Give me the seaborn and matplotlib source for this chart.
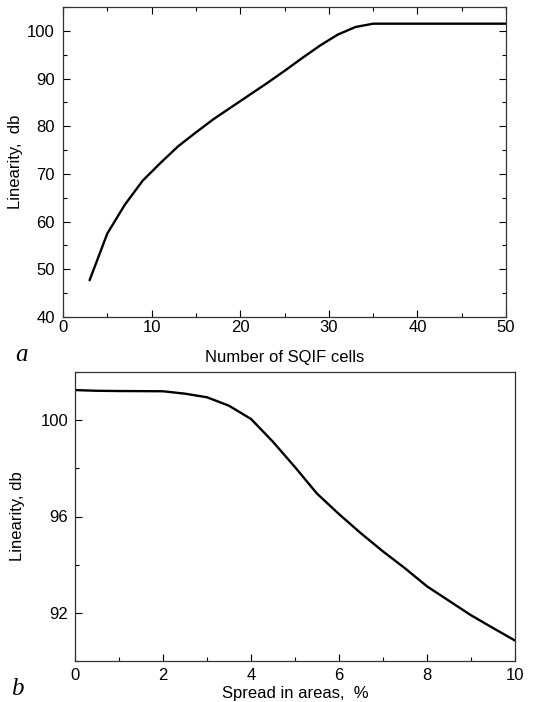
import matplotlib
matplotlib.use("Agg")
import matplotlib.pyplot as plt
from matplotlib.ticker import MultipleLocator
import seaborn as sns
import pandas as pd

# Panel a: linearity vs number of SQIF cells
cells = [3, 5, 7, 9, 11, 13, 15, 17, 19, 21, 23, 25, 27, 29, 31, 33, 35, 50]
lin_a = [47.7, 57.5, 63.6, 68.6, 72.3, 75.8, 78.7, 81.5, 84.0, 86.5, 89.0, 91.6, 94.3, 96.9, 99.2, 100.8, 101.5, 101.5]

# Panel b: linearity vs spread in areas
spread = [0, 0.5, 1, 2, 2.5, 3, 3.5, 4, 4.5, 5, 5.5, 6, 6.5, 7, 7.5, 8, 8.5, 9, 9.5, 10]
lin_b = [101.25, 101.22, 101.21, 101.2, 101.1, 100.95, 100.6, 100.05, 99.1, 98.05, 96.95, 96.1, 95.3, 94.55, 93.85, 93.1, 92.5, 91.9, 91.37, 90.85]

sns.set_style("ticks")
plt.rcParams['font.family'] = ['Liberation Sans', 'DejaVu Sans']
plt.rcParams['text.color'] = 'black'
plt.rcParams['axes.labelcolor'] = 'black'

fig = plt.figure(figsize=(5.35, 7.02), dpi=100)
ax1 = fig.add_axes([63 / 535, 1 - 317 / 702, 443 / 535, 310 / 702])
ax2 = fig.add_axes([75 / 535, 1 - 661 / 702, 440 / 535, 289 / 702])

df_a = pd.DataFrame({"x": cells, "y": lin_a})
df_b = pd.DataFrame({"x": spread, "y": lin_b})

sns.lineplot(data=df_a, x="x", y="y", ax=ax1, color="black", lw=1.7)
sns.lineplot(data=df_b, x="x", y="y", ax=ax2, color="black", lw=1.7)

ax1.set_xlim(0, 50)
ax1.set_ylim(40, 105)
ax1.xaxis.set_major_locator(MultipleLocator(10))
ax1.xaxis.set_minor_locator(MultipleLocator(5))
ax1.yaxis.set_major_locator(MultipleLocator(10))
ax1.yaxis.set_minor_locator(MultipleLocator(5))
ax1.tick_params(which="both", direction="in", top=True, right=True, labelsize=12, colors="black")
ax1.tick_params(which="major", length=5, width=0.8)
ax1.tick_params(which="minor", length=3, width=0.8)
ax1.tick_params(axis="x", which="major", pad=2)
ax1.tick_params(axis="y", which="major", pad=6)
ax1.set_xlabel("Number of SQIF cells", fontsize=12, color="black")
ax1.set_ylabel("Linearity,  db", fontsize=12, color="black")
ax1.xaxis.set_label_coords(0.5, -0.106)
ax1.yaxis.set_label_coords(-0.090, 0.5)

ax2.set_xlim(0, 10)
ax2.set_ylim(90, 102)
ax2.xaxis.set_major_locator(MultipleLocator(2))
ax2.xaxis.set_minor_locator(MultipleLocator(1))
ax2.yaxis.set_major_locator(MultipleLocator(4))
ax2.yaxis.set_minor_locator(MultipleLocator(2))
ax2.tick_params(which="both", direction="in", top=False, right=False, labelsize=12, colors="black")
ax2.tick_params(which="major", length=5, width=0.8)
ax2.tick_params(which="minor", length=3, width=0.8)
ax2.tick_params(axis="x", which="major", pad=5)
ax2.tick_params(axis="y", which="major", pad=5)
ax2.set_xlabel("Spread in areas,  %", fontsize=12, color="black")
ax2.set_ylabel("Linearity, db", fontsize=12, color="black")
ax2.xaxis.set_label_coords(0.5, -0.0865)
ax2.yaxis.set_label_coords(-0.1136, 0.5)

for ax in (ax1, ax2):
    for s in ax.spines.values():
        s.set_visible(True)
        s.set_color("#333333")
        s.set_linewidth(0.9)

fig.text(15 / 535, 1 - 355 / 702, "a", fontsize=18, style="italic", color="black",
         family=["Liberation Serif", "DejaVu Serif"], va="center", ha="left")
fig.text(11 / 535, 1 - 689 / 702, "b", fontsize=18, style="italic", color="black",
         family=["Liberation Serif", "DejaVu Serif"], va="center", ha="left")

fig.savefig("out.png", dpi=100)
